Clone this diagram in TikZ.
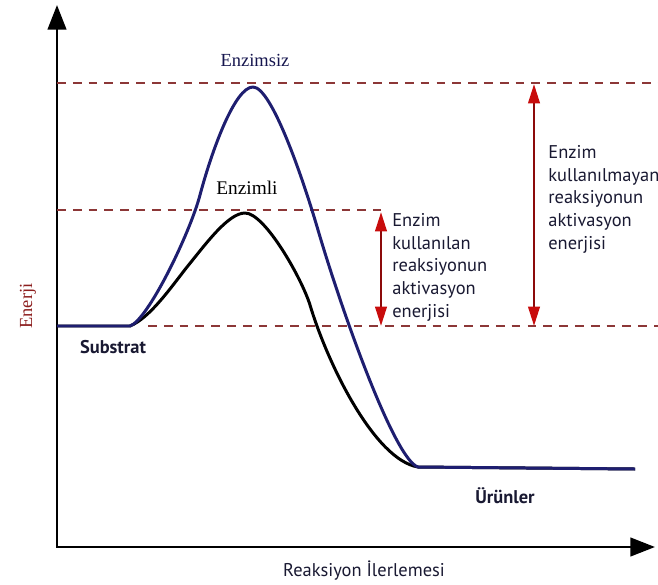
\documentclass[tikz,border=0pt]{standalone}
\usepackage{fontspec}
\setmainfont{Liberation Serif}
\newfontfamily\lblfont{PT Sans}
\usetikzlibrary{arrows.meta,positioning}
\definecolor{navy}{RGB}{30,30,112}
\definecolor{dashred}{RGB}{140,55,55}
\definecolor{arrred}{RGB}{140,10,10}
\definecolor{headred}{RGB}{200,12,12}
\definecolor{txtdark}{RGB}{25,25,50}
\definecolor{enred}{RGB}{140,30,30}
\tikzset{axis/.style={draw,line width=1.6pt,line cap=rect,-{Triangle[length=14pt,width=10.5pt]}}}
\tikzset{level/.style={draw=dashred,line width=0.8pt,dash pattern=on 5pt off 4pt}}
\tikzset{nocat/.style={draw=navy,line width=1.7pt,line join=round}}
\tikzset{withcat/.style={draw=black,line width=1.7pt,line join=round}}
\tikzset{barrier/.style={draw=arrred,line width=1.5pt,{Triangle[length=11pt,width=6.5pt,color=headred]}-{Triangle[length=11pt,width=6.5pt,color=headred]}}}
\tikzset{msg/.style={inner sep=0pt,align=left,anchor=north west,text=txtdark,font=\lblfont\fontsize{10.5}{12.9}\selectfont}}
\tikzset{state/.style={inner sep=1pt,text=txtdark,font=\lblfont\bfseries\fontsize{10.5}{12}\selectfont}}
\tikzset{curvelbl/.style={inner sep=1pt,font=\fontsize{10.5}{12}\selectfont}}

\begin{document}
\begin{tikzpicture}[x=0.02cm,y=-0.02cm]
    \useasboundingbox (0,0) rectangle (658,584);

    % axes
    \coordinate (O) at (57,547);
    \coordinate (ytop) at (57,5);
    \coordinate (xend) at (655,547);
    \draw[axis] (O) -- (ytop);
    \draw[axis] (O) -- (xend);

    % energy levels
    \coordinate (hiL) at (57,83);
    \coordinate (hiR) at (658,83);
    \coordinate (midL) at (57,210);
    \coordinate (midR) at (381,210);
    \coordinate (loL) at (148,326);
    \coordinate (loR) at (658,326);
    \path[level] (hiL) -- (hiR);
    \path[level] (midL) -- (midR);
    \path[level] (loL) -- (loR);

    % reaction curves
    \coordinate (sub) at (130,326);
    \coordinate (prod) at (418,467);
    \draw[withcat] (57,326) -- (sub)
        .. controls (150,318) and (172,286) .. (187,267)
        .. controls (205,245) and (228,213) .. (245,213)
        .. controls (265,213) and (302,279) .. (310,305)
        .. controls (328,365) and (375,460) .. (prod) -- (635,469);
    \draw[nocat] (57,326) -- (sub)
        .. controls (148,320) and (190,233) .. (200,195)
        .. controls (212,150) and (235,87) .. (253,87)
        .. controls (272,87) and (304,182) .. (318,230)
        .. controls (343,315) and (395,460) .. (prod) -- (635,469);

    % activation energies
    \coordinate (aT) at (381,212);
    \coordinate (aB) at (381,326);
    \coordinate (bT) at (534,84);
    \coordinate (bB) at (534,326);
    \path[barrier] (aB) -- (aT);
    \path[barrier] (bB) -- (bT);

    \node[msg] (m1) at (392,213) {Enzim\\kullanılan\\reaksiyonun\\aktivasyon\\enerjisi};
    \node[msg] (m2) at (548,145) {Enzim\\kullanılmayan\\reaksiyonun\\aktivasyon\\enerjisi};

    \node[curvelbl,text=navy!70!black] (enzimsiz) at (255,60) {Enzimsiz};
    \node[curvelbl,font=\fontsize{11}{12}\selectfont] (enzimli) at (247,188) {Enzimli};

    \node[state] (substrat) at (113,347) {Substrat};
    \node[state] (urunler) at (505,496) {Ürünler};

    \node[inner sep=1pt,text=txtdark,font=\lblfont\fontsize{10.5}{12}\selectfont] (xlbl) at (364,571) {Reaksiyon İlerlemesi};
    \node[inner sep=1pt,rotate=90,text=enred,font=\fontsize{10.5}{12}\selectfont] (ylbl) at (28,306) {Enerji};
\end{tikzpicture}
\end{document}
